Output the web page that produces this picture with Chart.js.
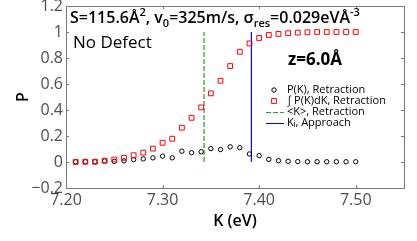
<!DOCTYPE html>
<html>
<head>
<meta charset="utf-8">
<script src="https://cdn.jsdelivr.net/npm/chart.js@4.4.1/dist/chart.umd.min.js"></script>
<style>
  html, body { margin: 0; padding: 0; background: #fff; }
  #wrap { width: 417px; height: 241px; }
</style>
</head>
<body>
<div id="wrap"><canvas id="c"></canvas></div>
<script>
var kValues = [7.21, 7.22, 7.23, 7.24, 7.25, 7.26, 7.27, 7.28, 7.29, 7.30,
               7.31, 7.32, 7.33, 7.34, 7.35, 7.36, 7.37, 7.38, 7.39, 7.40,
               7.41, 7.42, 7.43, 7.44, 7.45, 7.46, 7.47, 7.48, 7.49, 7.50];
var pRetraction = [0.002, 0.002, 0.002, 0.008, 0.005, 0.009, 0.018, 0.024, 0.032, 0.045,
                   0.032, 0.083, 0.072, 0.079, 0.103, 0.096, 0.117, 0.110, 0.062, 0.049,
                   0.020, 0.010, 0.005, 0.003, 0.002, 0.002, 0.002, 0.002, 0.002, 0.002];
var cumRetraction = [0.000, 0.002, 0.002, 0.010, 0.019, 0.032, 0.052, 0.072, 0.103, 0.148,
                     0.179, 0.264, 0.340, 0.420, 0.528, 0.625, 0.738, 0.848, 0.912, 0.954,
                     0.977, 0.985, 0.991, 0.995, 0.998, 1.000, 1.000, 1.000, 1.000, 1.000];
var meanK = 7.343;
var approachK = 7.392;
var markerSpan = [0, 1];
var xTicks = [7.20, 7.30, 7.40, 7.50];
var yTicks = [-0.2, 0, 0.2, 0.4, 0.6, 0.8, 1, 1.2];
var legendLabels = ["P(K), Retraction", "\u222B P(K)dK, Retraction", "<K>, Retraction", "K\u1D62, Approach"];

var AXIS_COLOR = "#7a7a7a";
var TICK_COLOR = "#4d4d4d";
var FONT = "'Open Sans', sans-serif";

function points(xs, ys) {
  return xs.map(function (x, i) { return { x: x, y: ys[i] }; });
}

function vline(x) {
  return markerSpan.map(function (y) { return { x: x, y: y }; });
}

function fmtY(v) {
  var r = Math.round(v * 10) / 10;
  if (r === 0) return "0";
  if (r === 1) return "1";
  var s = Math.abs(r).toFixed(1);
  return r < 0 ? "\u2212" + s : s;
}

// draws text runs with sub/superscripts
function richText(ctx, x, y, parts, size, weight) {
  ctx.textBaseline = "alphabetic";
  ctx.textAlign = "left";
  parts.forEach(function (p) {
    var s = p.sub || p.sup ? Math.round(size * 0.68) : size;
    var dy = p.sub ? size * 0.22 : (p.sup ? -size * 0.42 : 0);
    ctx.font = weight + " " + s + "px " + FONT;
    ctx.fillText(p.t, x, y + dy);
    x += ctx.measureText(p.t).width;
  });
}

var framePlugin = {
  id: "frame",
  afterDatasetsDraw: function (chart) {
    var ctx = chart.ctx;
    var a = chart.chartArea;
    var xs = chart.scales.x, ys = chart.scales.y;
    ctx.save();
    ctx.strokeStyle = AXIS_COLOR;
    ctx.lineWidth = 1;
    ctx.strokeRect(Math.round(a.left) + 0.5, Math.round(a.top) + 0.5,
                   Math.round(a.right - a.left), Math.round(a.bottom - a.top));
    ctx.beginPath();
    xTicks.forEach(function (v) {
      var px = Math.round(xs.getPixelForValue(v)) + 0.5;
      ctx.moveTo(px, a.bottom); ctx.lineTo(px, a.bottom - 3);
      ctx.moveTo(px, a.top); ctx.lineTo(px, a.top + 3);
    });
    yTicks.forEach(function (v) {
      var py = Math.round(ys.getPixelForValue(v)) + 0.5;
      ctx.moveTo(a.left, py); ctx.lineTo(a.left + 3, py);
      ctx.moveTo(a.right, py); ctx.lineTo(a.right - 3, py);
    });
    ctx.stroke();

    // annotations
    ctx.fillStyle = "#000";
    richText(ctx, 70, 23, [
      { t: "S=115.6\u00C5" }, { t: "2", sup: true }, { t: ", v" }, { t: "0", sub: true },
      { t: "=325m/s, \u03C3" }, { t: "res", sub: true }, { t: "=0.029eV\u00C5" }, { t: "-3", sup: true }
    ], 16, "600");
    richText(ctx, 73, 48, [{ t: "No Defect" }], 17, "400");
    richText(ctx, 288, 65, [{ t: "z=6.0\u00C5" }], 17, "700");

    // legend
    var lx = 274, tx = 287, ly = [90, 101, 112, 123];
    ctx.font = "400 11px " + FONT;
    ctx.textBaseline = "middle";
    ctx.textAlign = "left";
    ctx.lineWidth = 1;
    chart.data.datasets.forEach(function (ds, row) {
      var y = ly[row];
      ctx.strokeStyle = ds.borderColor;
      ctx.fillStyle = "rgba(0,0,0,0)";
      ctx.setLineDash([]);
      if (ds.showLine === false) {
        Chart.helpers.drawPoint(ctx, {
          pointStyle: ds.pointStyle, radius: ds.pointRadius, borderWidth: 1
        }, lx, y);
      } else {
        ctx.setLineDash(ds.borderDash || []);
        ctx.beginPath();
        ctx.moveTo(266, y + 0.5); ctx.lineTo(284, y + 0.5);
        ctx.stroke();
        ctx.setLineDash([]);
      }
      ctx.fillStyle = "#000";
      ctx.fillText(legendLabels[row], tx, y);
    });
    ctx.restore();
  }
};

new Chart(document.getElementById("c"), {
  type: "scatter",
  data: {
    datasets: [
      {
        label: legendLabels[0],
        data: points(kValues, pRetraction),
        showLine: false,
        pointStyle: "circle",
        pointRadius: 2.2,
        borderWidth: 1,
        borderColor: "#000",
        backgroundColor: "rgba(0,0,0,0)",
        order: 1
      },
      {
        label: legendLabels[1],
        data: points(kValues, cumRetraction),
        showLine: false,
        pointStyle: "rect",
        pointRadius: 3.4,
        borderWidth: 1,
        borderColor: "#ff0000",
        backgroundColor: "rgba(0,0,0,0)",
        order: 0
      },
      {
        label: legendLabels[2],
        data: vline(meanK),
        showLine: true,
        pointRadius: 0,
        borderWidth: 1.2,
        borderDash: [5, 2],
        borderColor: "#2e9a2e",
        order: 2
      },
      {
        label: legendLabels[3],
        data: vline(approachK),
        showLine: true,
        pointRadius: 0,
        borderWidth: 1.2,
        borderColor: "#0000ff",
        order: 2
      }
    ]
  },
  options: {
    responsive: true,
    maintainAspectRatio: false,
    animation: false,
    layout: { padding: { left: 0, right: 13, top: 6, bottom: 0 } },
    plugins: { legend: { display: false }, tooltip: { enabled: false } },
    scales: {
      x: {
        type: "linear",
        min: 7.2,
        max: 7.55,
        afterBuildTicks: function (s) { s.ticks = xTicks.map(function (v) { return { value: v }; }); },
        afterFit: function (s) { s.height = 53; s.paddingLeft = 0; s.paddingRight = 0; },
        grid: { display: false, drawTicks: false },
        border: { display: false },
        ticks: {
          maxRotation: 0,
          padding: 3,
          color: TICK_COLOR,
          font: { family: FONT, size: 16 },
          callback: function (v) { return Number(v).toFixed(2); }
        },
        title: {
          display: true,
          text: "K (eV)",
          color: "#000",
          padding: { bottom: 10 },
          font: { family: FONT, size: 16, weight: "600" }
        }
      },
      y: {
        min: -0.2,
        max: 1.2,
        afterBuildTicks: function (s) { s.ticks = yTicks.map(function (v) { return { value: v }; }); },
        afterFit: function (s) { s.width = 66; s.paddingTop = 0; s.paddingBottom = 0; },
        grid: { display: false, drawTicks: false },
        border: { display: false },
        ticks: {
          padding: 3,
          color: TICK_COLOR,
          font: { family: FONT, size: 16 },
          callback: function (v) { return fmtY(v); }
        },
        title: {
          display: true,
          text: "P",
          color: "#000",
          padding: { top: 14 },
          font: { family: FONT, size: 16, weight: "600" }
        }
      }
    }
  },
  plugins: [framePlugin]
});
</script>
</body>
</html>
